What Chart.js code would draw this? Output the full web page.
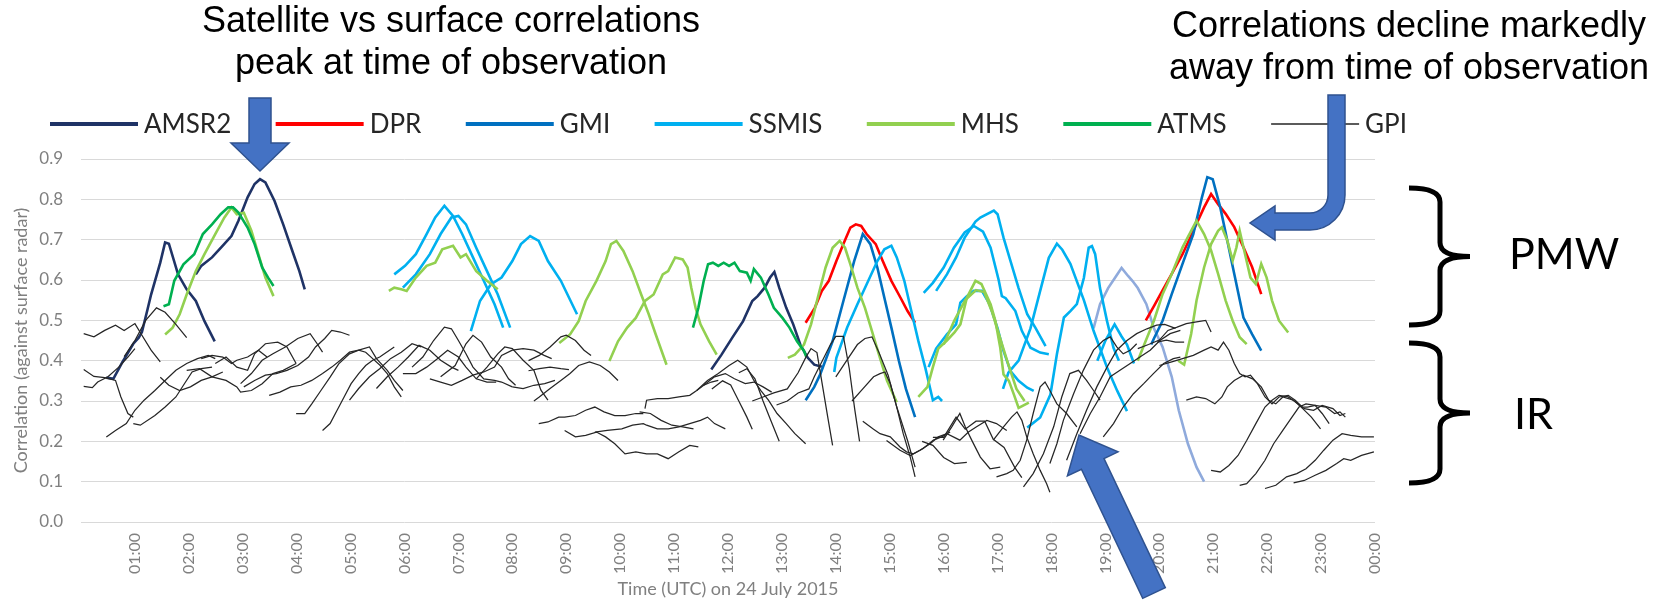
<!DOCTYPE html>
<html lang="en">
<head>
<meta charset="UTF-8">
<title>Satellite vs surface radar correlations, 24 July 2015</title>
<script src="https://cdn.jsdelivr.net/npm/chart.js"></script>
<style>
  html, body { margin: 0; padding: 0; background: #fff; }
</style>
</head>
<body>
<canvas id="corrChart" width="1661" height="605"></canvas>
<script>
// x tick labels, one per hour (1..24)
const tickLabels = ['01:00','02:00','03:00','04:00','05:00','06:00','07:00','08:00','09:00','10:00','11:00','12:00',
  '13:00','14:00','15:00','16:00','17:00','18:00','19:00','20:00','21:00','22:00','23:00','00:00'];

const legendNames = ['AMSR2', 'DPR', 'GMI', 'SSMIS', 'MHS', 'ATMS', 'GPI'];

// each series is a list of segments, each segment is [hour, correlation] pairs
const amsr2 = [
  [[0.47,0.358],[0.6,0.355],[0.77,0.397],[0.97,0.442],[1.07,0.457],[1.13,0.471],[1.23,0.525],[1.3,0.564],[1.47,0.643],[1.56,0.693],[1.63,0.69],[1.8,0.614],[1.96,0.577],[2.13,0.548],[2.29,0.498],[2.48,0.448]],
  [[2.13,0.614],[2.23,0.635],[2.43,0.656],[2.63,0.685],[2.79,0.709],[2.92,0.747],[3.09,0.805],[3.22,0.838],[3.32,0.85],[3.42,0.842],[3.59,0.796],[3.75,0.738],[3.92,0.672],[4.05,0.622],[4.15,0.577]],
  [[11.69,0.378],[11.88,0.415],[12.08,0.457],[12.28,0.498],[12.45,0.548],[12.55,0.56],[12.68,0.581],[12.78,0.606],[12.86,0.62],[12.95,0.581],[13.08,0.531],[13.21,0.49],[13.34,0.44],[13.48,0.407],[13.6,0.39],[13.74,0.385]]
];

const dpr = [
  [[13.44,0.494],[13.61,0.531],[13.74,0.573],[13.87,0.598],[14.01,0.647],[14.14,0.689],[14.27,0.73],[14.37,0.738],[14.47,0.734],[14.57,0.714],[14.74,0.689],[14.87,0.647],[15.03,0.598],[15.2,0.556],[15.33,0.523],[15.47,0.494]],
  [[19.75,0.5],[19.9,0.535],[20.06,0.574],[20.23,0.615],[20.43,0.664],[20.63,0.722],[20.83,0.78],[20.96,0.813],[21.09,0.788],[21.23,0.764],[21.39,0.731],[21.56,0.681],[21.72,0.632],[21.89,0.565]]
];

const gmi = [
  [[13.44,0.302],[13.6,0.335],[13.71,0.366],[13.94,0.448],[14.14,0.548],[14.34,0.647],[14.5,0.714],[14.64,0.689],[14.77,0.631],[14.9,0.556],[15.03,0.482],[15.17,0.399],[15.3,0.33],[15.47,0.26]],
  [[19.85,0.44],[19.9,0.455],[20.06,0.499],[20.23,0.565],[20.43,0.64],[20.63,0.714],[20.79,0.805],[20.89,0.855],[20.99,0.85],[21.13,0.78],[21.26,0.698],[21.39,0.615],[21.56,0.507],[21.72,0.466],[21.89,0.425]]
];

// pale blue trace around 19:00-21:00
const paleTrace = [
  [[18.78,0.48],[18.9,0.54],[19.05,0.58],[19.2,0.61],[19.3,0.63],[19.42,0.61],[19.5,0.598],[19.6,0.58],[19.76,0.54],[19.9,0.48],[20.06,0.434],[20.23,0.36],[20.36,0.277],[20.53,0.194],[20.69,0.136],[20.83,0.1]]
];

const ssmis = [
  [[5.81,0.614],[6.01,0.635],[6.21,0.664],[6.41,0.714],[6.57,0.755],[6.74,0.784],[6.9,0.759],[7.07,0.714],[7.27,0.656],[7.47,0.598],[7.67,0.54],[7.83,0.482]],
  [[5.97,0.581],[6.21,0.614],[6.47,0.664],[6.67,0.714],[6.87,0.755],[7.0,0.759],[7.14,0.738],[7.33,0.68],[7.53,0.622],[7.73,0.564],[7.96,0.482]],
  [[7.23,0.473],[7.4,0.548],[7.6,0.589],[7.8,0.606],[8.0,0.647],[8.16,0.689],[8.33,0.709],[8.49,0.697],[8.66,0.647],[8.9,0.598],[9.2,0.515]],
  [[13.97,0.372],[14.01,0.407],[14.21,0.482],[14.4,0.54],[14.57,0.589],[14.77,0.647],[14.9,0.676],[15.03,0.685],[15.13,0.656],[15.27,0.598],[15.4,0.523],[15.53,0.449],[15.66,0.382],[15.8,0.302],[15.9,0.31],[15.97,0.3]],
  [[15.63,0.568],[15.8,0.593],[16.0,0.631],[16.19,0.68],[16.39,0.718],[16.56,0.734],[16.73,0.72],[16.87,0.68],[17.02,0.6],[17.08,0.56],[17.15,0.555],[17.33,0.523],[17.45,0.474],[17.61,0.432],[17.79,0.42],[17.95,0.416]],
  [[15.86,0.573],[16.06,0.614],[16.23,0.656],[16.39,0.705],[16.59,0.745],[16.68,0.755],[16.93,0.772],[17.0,0.763],[17.11,0.705],[17.24,0.647],[17.39,0.58],[17.55,0.515],[17.7,0.482],[17.89,0.436]],
  [[15.72,0.384],[15.86,0.43],[16.06,0.465],[16.23,0.49],[16.31,0.544],[16.43,0.56],[16.56,0.573],[16.71,0.573],[16.85,0.54],[17.0,0.48],[17.11,0.424],[17.24,0.374],[17.39,0.35],[17.55,0.333],[17.67,0.325]],
  [[17.1,0.33],[17.2,0.37],[17.39,0.4],[17.61,0.48],[17.79,0.573],[17.95,0.655],[18.1,0.69],[18.2,0.675],[18.35,0.64],[18.6,0.55],[18.78,0.474],[19.03,0.383],[19.22,0.325],[19.4,0.275]],
  [[17.55,0.234],[17.79,0.259],[17.98,0.316],[18.1,0.416],[18.23,0.507],[18.35,0.523],[18.47,0.54],[18.6,0.605],[18.69,0.68],[18.75,0.684],[18.81,0.664],[18.9,0.58],[19.03,0.498],[19.15,0.432],[19.25,0.4]],
  [[18.85,0.4],[19.0,0.45],[19.17,0.49],[19.3,0.46],[19.4,0.44],[19.53,0.393]]
];

const mhs = [
  [[1.56,0.465],[1.7,0.482],[1.83,0.515],[1.96,0.564],[2.13,0.622],[2.29,0.664],[2.49,0.714],[2.66,0.755],[2.79,0.78],[2.89,0.763],[3.02,0.767],[3.16,0.722],[3.29,0.664],[3.42,0.606],[3.57,0.56]],
  [[5.71,0.573],[5.81,0.581],[5.94,0.577],[6.04,0.573],[6.21,0.606],[6.41,0.635],[6.57,0.643],[6.7,0.676],[6.9,0.685],[7.04,0.656],[7.14,0.664],[7.33,0.622],[7.53,0.598],[7.73,0.577]],
  [[8.87,0.444],[9.07,0.465],[9.23,0.498],[9.36,0.548],[9.56,0.598],[9.73,0.647],[9.83,0.689],[9.93,0.697],[10.06,0.672],[10.23,0.622],[10.39,0.564],[10.53,0.515],[10.66,0.465],[10.86,0.39]],
  [[9.8,0.399],[9.96,0.448],[10.13,0.482],[10.29,0.506],[10.46,0.548],[10.62,0.564],[10.79,0.614],[10.89,0.622],[11.02,0.656],[11.16,0.651],[11.25,0.631],[11.32,0.58],[11.4,0.53],[11.49,0.49],[11.65,0.448],[11.79,0.415]],
  [[13.11,0.407],[13.24,0.415],[13.41,0.44],[13.54,0.49],[13.68,0.564],[13.81,0.631],[13.94,0.68],[14.07,0.697],[14.17,0.68],[14.27,0.639],[14.4,0.581],[14.54,0.531],[14.67,0.473],[14.8,0.415],[14.95,0.35],[15.13,0.297]],
  [[15.53,0.31],[15.7,0.335],[15.8,0.384],[15.9,0.43],[16.06,0.45],[16.2,0.47],[16.31,0.49],[16.43,0.556],[16.59,0.598],[16.7,0.59],[16.87,0.54],[16.96,0.498],[17.05,0.432],[17.11,0.366],[17.21,0.35],[17.3,0.317],[17.39,0.283],[17.58,0.296]],
  [[16.0,0.44],[16.2,0.5],[16.4,0.55],[16.6,0.575],[16.75,0.57],[16.9,0.52],[17.06,0.45],[17.2,0.39],[17.35,0.33],[17.5,0.3]],
  [[19.6,0.4],[19.75,0.45],[19.9,0.499],[20.06,0.565],[20.23,0.615],[20.43,0.681],[20.59,0.722],[20.69,0.747],[20.83,0.714],[20.96,0.673],[21.09,0.615],[21.23,0.549],[21.36,0.499],[21.49,0.458],[21.62,0.441]],
  [[20.35,0.4],[20.46,0.39],[20.59,0.466],[20.69,0.549],[20.83,0.631],[20.96,0.689],[21.09,0.722],[21.16,0.731],[21.26,0.698],[21.36,0.648],[21.43,0.681],[21.49,0.722],[21.59,0.664],[21.69,0.606],[21.79,0.59],[21.89,0.64],[21.99,0.606],[22.09,0.549],[22.22,0.499],[22.39,0.47]]
];

const atms = [
  [[1.53,0.535],[1.63,0.54],[1.73,0.598],[1.9,0.639],[2.1,0.664],[2.26,0.714],[2.43,0.738],[2.59,0.763],[2.73,0.78],[2.82,0.78],[2.92,0.767],[3.09,0.73],[3.22,0.689],[3.36,0.631],[3.47,0.606],[3.57,0.585]],
  [[11.35,0.482],[11.45,0.531],[11.55,0.598],[11.63,0.639],[11.72,0.643],[11.82,0.635],[11.92,0.643],[12.02,0.635],[12.12,0.643],[12.22,0.622],[12.35,0.618],[12.42,0.598],[12.48,0.627],[12.61,0.606],[12.75,0.564],[12.85,0.531],[13.01,0.506],[13.14,0.482],[13.28,0.448],[13.41,0.424],[13.45,0.41]]
];

const gpi = [
  [[0.05,0.467],[0.24,0.459],[0.44,0.475],[0.64,0.488],[0.8,0.475],[1.0,0.492],[1.13,0.463],[1.3,0.426],[1.47,0.397]],
  [[0.05,0.378],[0.24,0.361],[0.44,0.358],[0.64,0.351],[0.74,0.31],[0.87,0.269],[0.97,0.26]],
  [[0.05,0.336],[0.21,0.333],[0.31,0.347],[0.5,0.36],[0.7,0.384],[0.87,0.409],[1.0,0.43]],
  [[0.47,0.211],[0.64,0.227],[0.84,0.244],[1.0,0.277],[1.17,0.302],[1.37,0.326],[1.56,0.351],[1.76,0.376],[1.96,0.393],[2.16,0.405],[2.36,0.413],[2.49,0.405]],
  [[0.97,0.244],[1.1,0.24],[1.37,0.264],[1.56,0.285],[1.76,0.31],[1.9,0.339],[2.06,0.372],[2.23,0.38],[2.43,0.384]],
  [[1.47,0.359],[1.63,0.339],[1.83,0.326],[2.03,0.335],[2.23,0.351],[2.43,0.36],[2.63,0.372]],
  [[0.8,0.41],[1.0,0.45],[1.2,0.5],[1.4,0.531],[1.56,0.52],[1.76,0.49],[1.96,0.457]],
  [[1.96,0.376],[2.2,0.38],[2.43,0.36],[2.69,0.351],[2.89,0.335],[2.96,0.322],[3.16,0.326],[3.36,0.343],[3.56,0.368],[3.75,0.376],[3.99,0.393]],
  [[2.23,0.405],[2.43,0.413],[2.63,0.409],[2.79,0.393],[2.89,0.401],[3.09,0.409],[3.29,0.426],[3.45,0.409]],
  [[2.49,0.393],[2.69,0.409],[2.89,0.384],[3.09,0.376],[3.22,0.417],[3.42,0.442],[3.65,0.446],[3.82,0.434],[3.99,0.393]],
  [[2.96,0.343],[3.16,0.368],[3.36,0.401],[3.56,0.417],[3.79,0.434],[4.02,0.455],[4.25,0.467],[4.38,0.442],[4.48,0.421]],
  [[3.02,0.335],[3.22,0.351],[3.42,0.364],[3.62,0.368],[3.82,0.376],[4.02,0.388],[4.22,0.409],[4.35,0.434],[4.52,0.455],[4.65,0.475],[4.81,0.471],[4.98,0.463]],
  [[3.49,0.314],[3.69,0.322],[3.89,0.335],[4.08,0.339],[4.28,0.351],[4.48,0.368],[4.65,0.384],[4.81,0.401],[4.98,0.421],[5.15,0.426],[5.35,0.434],[5.48,0.405],[5.68,0.376],[5.81,0.351],[5.97,0.326]],
  [[3.99,0.269],[4.15,0.269],[4.28,0.293],[4.45,0.326],[4.62,0.359],[4.78,0.392],[4.98,0.417],[5.15,0.426],[5.28,0.421],[5.41,0.405],[5.55,0.388],[5.68,0.368],[5.81,0.335],[5.94,0.31]],
  [[4.48,0.227],[4.62,0.244],[4.75,0.277],[4.88,0.31],[5.01,0.343],[5.15,0.368],[5.28,0.388],[5.41,0.401],[5.54,0.409],[5.81,0.434]],
  [[4.98,0.302],[5.15,0.331],[5.35,0.36],[5.54,0.38],[5.74,0.405],[5.94,0.421],[6.14,0.442],[6.31,0.434]],
  [[5.48,0.331],[5.68,0.36],[5.88,0.384],[6.07,0.409],[6.27,0.438],[6.47,0.426],[6.67,0.401],[6.87,0.384],[7.0,0.376]],
  [[5.97,0.368],[6.21,0.368],[6.41,0.384],[6.61,0.405],[6.8,0.426],[7.0,0.409],[7.14,0.384],[7.33,0.355],[7.53,0.347],[7.7,0.347]],
  [[6.47,0.355],[6.67,0.347],[6.87,0.339],[7.07,0.351],[7.27,0.364],[7.47,0.372],[7.67,0.384],[7.8,0.413],[8.0,0.426],[8.2,0.43],[8.4,0.426],[8.59,0.413],[8.73,0.405]],
  [[6.14,0.384],[6.34,0.409],[6.54,0.45],[6.74,0.483],[6.87,0.479],[7.0,0.45],[7.14,0.417],[7.27,0.384],[7.47,0.355],[7.67,0.351],[7.8,0.347],[8.0,0.335]],
  [[6.67,0.36],[6.94,0.388],[7.14,0.442],[7.27,0.463],[7.43,0.446],[7.6,0.409],[7.8,0.384],[7.93,0.355],[8.06,0.339]],
  [[7.33,0.355],[7.53,0.384],[7.73,0.417],[7.86,0.434],[8.0,0.43],[8.2,0.401],[8.4,0.376],[8.53,0.327],[8.66,0.302]],
  [[8.0,0.335],[8.2,0.331],[8.4,0.339],[8.6,0.343],[8.79,0.351]],
  [[8.3,0.4],[8.5,0.413],[8.7,0.434],[8.9,0.459],[9.0,0.463],[9.17,0.45],[9.33,0.426],[9.46,0.413]],
  [[8.3,0.375],[8.5,0.38],[8.7,0.384],[8.9,0.38],[9.05,0.378]],
  [[8.4,0.3],[8.5,0.31],[8.7,0.331],[8.9,0.351],[9.07,0.368],[9.23,0.388],[9.43,0.397],[9.63,0.388],[9.8,0.372],[9.96,0.351]],
  [[8.49,0.244],[8.66,0.248],[8.86,0.26],[8.97,0.26],[9.17,0.264],[9.36,0.277],[9.53,0.285],[9.7,0.273],[9.9,0.264],[10.09,0.264],[10.29,0.269],[10.43,0.269]],
  [[8.97,0.227],[9.17,0.211],[9.36,0.215],[9.56,0.223],[9.73,0.211],[9.9,0.194],[10.09,0.169],[10.29,0.174],[10.49,0.169],[10.69,0.169],[10.89,0.157],[11.09,0.174],[11.29,0.19],[11.45,0.186]],
  [[9.53,0.223],[9.76,0.227],[10.03,0.231],[10.23,0.24],[10.43,0.244],[10.49,0.24],[10.69,0.231],[10.89,0.231],[11.09,0.236],[11.29,0.244],[11.49,0.252],[11.62,0.26],[11.75,0.244],[11.95,0.231]],
  [[10.36,0.273],[10.56,0.269],[10.76,0.252],[10.96,0.24],[11.16,0.236],[11.36,0.231]],
  [[10.46,0.281],[10.49,0.302],[10.69,0.306],[10.89,0.306],[11.09,0.31],[11.29,0.314],[11.42,0.326],[11.55,0.339],[11.69,0.347],[11.82,0.351]],
  [[11.42,0.326],[11.62,0.351],[11.82,0.368],[12.02,0.388],[12.18,0.401],[12.35,0.384],[12.48,0.351],[12.61,0.326],[12.75,0.302],[12.91,0.269],[13.08,0.244],[13.24,0.219],[13.44,0.194]],
  [[11.55,0.339],[11.75,0.36],[11.95,0.368],[12.12,0.355],[12.32,0.343],[12.48,0.347],[12.65,0.335],[12.81,0.322]],
  [[11.7,0.33],[11.9,0.35],[12.05,0.34],[12.2,0.3],[12.35,0.26],[12.45,0.23]],
  [[12.2,0.37],[12.35,0.38],[12.5,0.355],[12.65,0.3],[12.8,0.25],[12.95,0.2]],
  [[12.45,0.3],[12.65,0.31],[12.85,0.32],[13.1,0.33],[13.3,0.37],[13.45,0.41],[13.54,0.43],[13.65,0.42],[13.75,0.34],[13.85,0.26],[13.94,0.19]],
  [[12.9,0.29],[13.1,0.3],[13.3,0.32],[13.5,0.33],[13.6,0.36],[13.75,0.4],[13.9,0.44],[14.0,0.46],[14.14,0.46],[14.25,0.38],[14.35,0.28],[14.44,0.2]],
  [[14.0,0.36],[14.2,0.4],[14.4,0.44],[14.54,0.455],[14.67,0.459],[14.8,0.42],[14.97,0.364],[15.13,0.285],[15.33,0.202],[15.47,0.136]],
  [[14.3,0.3],[14.5,0.33],[14.7,0.36],[14.82,0.368],[14.91,0.372],[15.01,0.343],[15.13,0.285],[15.25,0.219],[15.38,0.161],[15.47,0.112]],
  [[14.5,0.25],[14.7,0.23],[14.82,0.219],[15.01,0.211],[15.19,0.186],[15.31,0.174],[15.44,0.169],[15.62,0.182],[15.81,0.203],[15.96,0.211],[16.12,0.223]],
  [[14.94,0.202],[15.19,0.178],[15.38,0.165],[15.56,0.178],[15.75,0.194],[15.9,0.211],[16.06,0.219],[16.3,0.203],[16.46,0.223],[16.61,0.236],[16.8,0.252],[16.98,0.244],[17.17,0.227]],
  [[15.99,0.203],[16.15,0.236],[16.3,0.269],[16.4,0.236],[16.52,0.203],[16.68,0.161],[16.86,0.132],[17.05,0.136]],
  [[15.6,0.2],[15.8,0.19],[16.0,0.16],[16.2,0.145],[16.43,0.148]],
  [[15.8,0.21],[16.0,0.21],[16.23,0.26],[16.4,0.23],[16.6,0.25],[16.76,0.25],[16.92,0.205],[17.12,0.185],[17.32,0.135],[17.45,0.11]],
  [[16.92,0.203],[17.11,0.236],[17.26,0.26],[17.36,0.273],[17.45,0.252],[17.54,0.211],[17.66,0.169],[17.79,0.128],[17.91,0.095],[17.97,0.074]],
  [[16.98,0.112],[17.17,0.12],[17.29,0.128],[17.42,0.153],[17.54,0.203],[17.66,0.269],[17.79,0.335],[17.88,0.347],[17.97,0.326],[18.1,0.293],[18.28,0.269],[18.47,0.236]],
  [[17.48,0.087],[17.66,0.12],[17.85,0.169],[18.04,0.236],[18.19,0.31],[18.34,0.368],[18.5,0.376],[18.65,0.351],[18.78,0.326],[18.9,0.302]],
  [[17.97,0.145],[18.1,0.194],[18.22,0.252],[18.41,0.318],[18.59,0.376],[18.78,0.426],[18.96,0.45],[19.09,0.459],[19.21,0.434],[19.33,0.417],[19.46,0.426],[19.58,0.442]],
  [[18.28,0.153],[18.47,0.219],[18.65,0.277],[18.84,0.335],[19.03,0.384],[19.21,0.426],[19.4,0.45],[19.58,0.467],[19.77,0.479],[19.95,0.488],[20.1,0.49],[20.3,0.48]],
  [[18.53,0.219],[18.72,0.269],[18.9,0.31],[19.09,0.36],[19.27,0.376],[19.46,0.393],[19.64,0.409],[19.83,0.426],[20.01,0.45],[20.2,0.467],[20.39,0.475]],
  [[18.96,0.211],[19.15,0.244],[19.33,0.285],[19.52,0.318],[19.71,0.343],[19.89,0.368],[20.08,0.393],[20.26,0.405],[20.39,0.409]],
  [[19.6,0.43],[19.8,0.44],[20.0,0.451],[20.16,0.475],[20.33,0.483],[20.5,0.492],[20.69,0.496],[20.86,0.5],[20.96,0.471]],
  [[19.96,0.446],[20.13,0.451],[20.3,0.446],[20.46,0.446]],
  [[20.0,0.388],[20.23,0.397],[20.43,0.405],[20.63,0.413],[20.83,0.426],[20.96,0.434],[21.09,0.426],[21.19,0.446],[21.29,0.426],[21.39,0.393],[21.49,0.368],[21.59,0.36],[21.69,0.364],[21.82,0.343],[21.96,0.31],[22.09,0.293],[22.22,0.31],[22.39,0.314],[22.52,0.302],[22.65,0.285],[22.75,0.285],[22.89,0.289],[23.09,0.285],[23.25,0.269],[23.35,0.273],[23.45,0.26]],
  [[20.5,0.302],[20.69,0.31],[20.86,0.306],[21.03,0.293],[21.16,0.31],[21.26,0.335],[21.39,0.351],[21.56,0.364],[21.73,0.355],[21.89,0.335],[22.03,0.302],[22.16,0.293],[22.29,0.31],[22.49,0.302],[22.66,0.281],[22.82,0.26],[22.99,0.231]],
  [[20.96,0.128],[21.13,0.124],[21.29,0.14],[21.46,0.165],[21.62,0.202],[21.79,0.244],[21.96,0.285],[22.09,0.302],[22.22,0.314],[22.39,0.31],[22.52,0.298],[22.69,0.281],[22.86,0.277],[23.02,0.289],[23.22,0.281],[23.35,0.264],[23.45,0.269]],
  [[21.49,0.091],[21.62,0.095],[21.79,0.12],[21.96,0.153],[22.12,0.194],[22.29,0.227],[22.46,0.26],[22.59,0.285],[22.72,0.293],[22.89,0.289],[23.02,0.269],[23.15,0.244]],
  [[21.96,0.083],[22.16,0.091],[22.36,0.112],[22.55,0.12],[22.72,0.132],[22.89,0.153],[23.05,0.178],[23.22,0.203],[23.39,0.219],[23.55,0.215],[23.75,0.211],[23.98,0.211]],
  [[22.49,0.097],[22.69,0.103],[22.89,0.116],[23.09,0.128],[23.29,0.145],[23.42,0.157],[23.55,0.153],[23.75,0.165],[23.98,0.174]]
];

// series styling, in legend order (Excel draws later series on top)
const series = [
  { name: 'AMSR2', segs: amsr2, color: '#1F3366', width: 2.6 },
  { name: 'DPR',   segs: dpr,   color: '#FF0000', width: 2.6 },
  { name: 'GMI',   segs: gmi,   color: '#0070C0', width: 2.6 },
  { name: 'SSMIS', segs: ssmis, color: '#00B0F0', width: 2.6 },
  { name: 'MHS',   segs: mhs,   color: '#92D050', width: 2.6 },
  { name: 'ATMS',  segs: atms,  color: '#00B050', width: 2.6 },
  { name: 'GPI',   segs: gpi,   color: '#262626', width: 1.25 }
];

const datasets = [];
paleTrace.forEach(seg => datasets.push({
  label: 'pale', data: seg.map(p => ({ x: p[0], y: p[1] })),
  borderColor: '#8FAADC', borderWidth: 2.6, pointRadius: 0, tension: 0, order: 20
}));
series.forEach((s, i) => {
  s.segs.forEach(seg => datasets.push({
    label: s.name,
    data: seg.map(p => ({ x: p[0], y: p[1] })),
    borderColor: s.color,
    borderWidth: s.width,
    pointRadius: 0,
    tension: 0,
    order: 10 - i
  }));
});

function fillArrow(ctx, pts) {
  ctx.beginPath();
  ctx.moveTo(pts[0][0], pts[0][1]);
  for (let i = 1; i < pts.length; i++) ctx.lineTo(pts[i][0], pts[i][1]);
  ctx.closePath();
  ctx.fill();
  ctx.stroke();
}

function drawBrace(ctx, xL, xV, xT, yT, yB) {
  const yM = (yT + yB) / 2, r = 14;
  ctx.beginPath();
  ctx.moveTo(xL, yT);
  ctx.quadraticCurveTo(xV, yT, xV, yT + r);
  ctx.lineTo(xV, yM - r);
  ctx.quadraticCurveTo(xV, yM, xT, yM);
  ctx.moveTo(xT, yM);
  ctx.quadraticCurveTo(xV, yM, xV, yM + r);
  ctx.lineTo(xV, yB - r);
  ctx.quadraticCurveTo(xV, yB, xL, yB);
  ctx.stroke();
}

const annotations = {
  id: 'annotations',
  afterDraw(chart) {
    const ctx = chart.ctx;
    ctx.save();

    // legend
    ctx.font = '26px Lato';
    ctx.textBaseline = 'middle';
    ctx.textAlign = 'left';
    const lineLen = 88, textGap = 6, startX = 50, endX = 1407, legY = 124;
    const widths = legendNames.map(n => ctx.measureText(n).width);
    const used = widths.reduce((a, w) => a + lineLen + textGap + w, 0);
    const gap = (endX - startX - used) / (legendNames.length - 1);
    let lx = startX;
    legendNames.forEach((n, i) => {
      ctx.fillStyle = series[i].color;
      const h = n === 'GPI' ? 1.5 : 4;
      ctx.fillRect(lx, legY - h / 2, lineLen, h);
      ctx.fillStyle = '#262626';
      ctx.fillText(n, lx + lineLen + textGap, legY + 1);
      lx += lineLen + textGap + widths[i] + gap;
    });

    // callout texts
    ctx.fillStyle = '#000';
    ctx.textAlign = 'center';
    ctx.font = '36px "Liberation Sans", Arial, sans-serif';
    ctx.fillText('Satellite vs surface correlations', 451, 22);
    ctx.fillText('peak at time of observation', 451, 64);
    ctx.fillText('Correlations decline markedly', 1409, 27);
    ctx.fillText('away from time of observation', 1409, 69);

    // arrows
    ctx.fillStyle = '#4472C4';
    ctx.strokeStyle = '#2F528F';
    ctx.lineWidth = 1.5;
    fillArrow(ctx, [[249, 98], [271, 98], [271, 143], [289, 143], [260, 171], [231, 143], [249, 143]]);

    ctx.beginPath();
    ctx.moveTo(1328, 95);
    ctx.lineTo(1345, 95);
    ctx.lineTo(1345, 195);
    ctx.arc(1310, 195, 35, 0, Math.PI / 2);
    ctx.lineTo(1275, 230);
    ctx.lineTo(1275, 240);
    ctx.lineTo(1250, 223);
    ctx.lineTo(1275, 206);
    ctx.lineTo(1275, 213);
    ctx.lineTo(1310, 213);
    ctx.arc(1310, 195, 18, Math.PI / 2, 0, true);
    ctx.closePath();
    ctx.fill();
    ctx.stroke();

    const tip = [1079, 435], tail = [1154, 593];
    const len = Math.hypot(tip[0] - tail[0], tip[1] - tail[1]);
    const d = [(tip[0] - tail[0]) / len, (tip[1] - tail[1]) / len];
    const n = [-d[1], d[0]];
    const hb = [tip[0] - d[0] * 32, tip[1] - d[1] * 32];
    const sw = 12.5, hw = 28;
    fillArrow(ctx, [
      [tail[0] + n[0] * sw, tail[1] + n[1] * sw],
      [hb[0] + n[0] * sw, hb[1] + n[1] * sw],
      [hb[0] + n[0] * hw, hb[1] + n[1] * hw],
      tip,
      [hb[0] - n[0] * hw, hb[1] - n[1] * hw],
      [hb[0] - n[0] * sw, hb[1] - n[1] * sw],
      [tail[0] - n[0] * sw, tail[1] - n[1] * sw]
    ]);

    // braces and group labels
    ctx.strokeStyle = '#000';
    ctx.lineWidth = 5;
    drawBrace(ctx, 1409, 1440, 1470, 188, 325);
    drawBrace(ctx, 1409, 1440, 1470, 343, 483);
    ctx.fillStyle = '#000';
    ctx.textAlign = 'left';
    ctx.font = '43px Lato';
    ctx.fillText('PMW', 1509, 255);
    ctx.fillText('IR', 1514, 415);

    ctx.restore();
  }
};

const tickFont = { family: 'Lato', size: 16 };

new Chart(document.getElementById('corrChart'), {
  type: 'line',
  data: { datasets },
  options: {
    responsive: false,
    animation: false,
    layout: { padding: { top: 159, right: 286, bottom: 0, left: 0 } },
    plugins: {
      legend: { display: false },
      tooltip: { enabled: false }
    },
    scales: {
      x: {
        type: 'linear',
        min: 0,
        max: 24,
        afterFit: s => { s.height = 83; },
        grid: { display: false },
        border: { display: false },
        ticks: {
          stepSize: 1,
          autoSkip: false,
          maxRotation: 90,
          minRotation: 90,
          padding: 3,
          color: '#808080',
          font: tickFont,
          callback: v => (v === 0 ? '' : tickLabels[v - 1])
        },
        title: {
          display: true,
          text: 'Time (UTC) on 24 July 2015',
          color: '#808080',
          font: { family: 'Lato', size: 18 },
          padding: { top: 0, bottom: 5 }
        }
      },
      y: {
        min: 0,
        max: 0.9,
        afterFit: s => { s.width = 81; },
        grid: { color: '#d9d9d9', drawTicks: false },
        border: { display: false },
        ticks: {
          stepSize: 0.1,
          padding: 18,
          color: '#808080',
          font: { family: 'Lato', size: 17 },
          callback: v => v.toFixed(1)
        },
        title: {
          display: true,
          text: 'Correlation (against surface radar)',
          color: '#808080',
          font: { family: 'Lato', size: 18 },
          padding: { top: 10, bottom: 0 }
        }
      }
    }
  },
  plugins: [annotations]
});
</script>
</body>
</html>
